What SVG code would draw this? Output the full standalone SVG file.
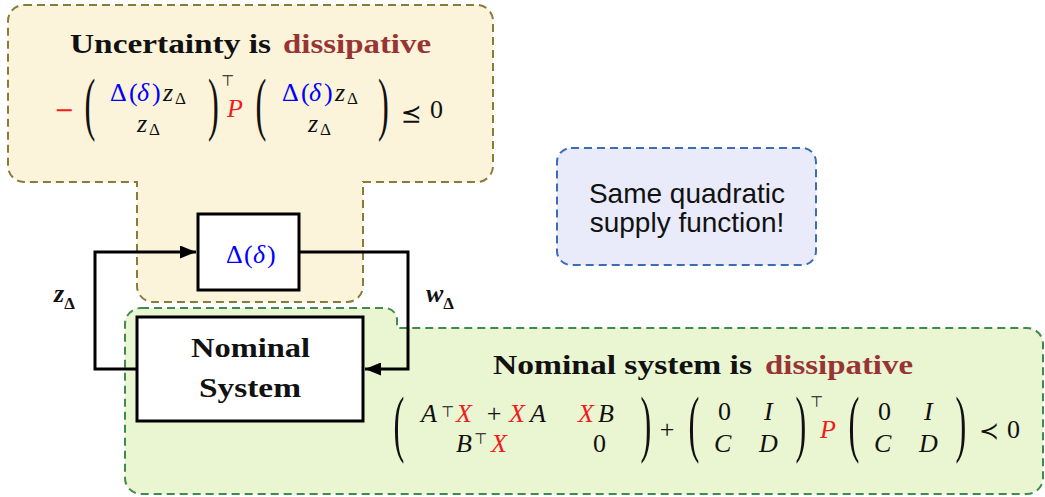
<svg xmlns="http://www.w3.org/2000/svg" width="1045" height="497" viewBox="0 0 1045 497">
<style>
.reg{fill:#fcf4da;stroke:#8a7b3b;stroke-width:2;stroke-dasharray:8 5}
.greg{fill:#eaf5d2;stroke:#3f8a4c;stroke-width:2;stroke-dasharray:8 5}
.breg{fill:#e9ebfa;stroke:#3c6cb6;stroke-width:2;stroke-dasharray:8 5}
.box{fill:#fff;stroke:#000;stroke-width:3}
.wire{fill:none;stroke:#000;stroke-width:3}
.ttl{font-family:"Liberation Serif",serif;font-weight:bold;font-size:28px;fill:#111}
.dis{fill:#983434}
.m{font-family:"Liberation Serif",serif;font-size:26px;fill:#111}
.i{font-style:italic}
.r{fill:#f01c1c}
.b{fill:#0000ff}
.sub{font-size:17px}
.sym{font-family:"DejaVu Sans",sans-serif;fill:#111}
.sans{font-family:"Liberation Sans",Arial,sans-serif;font-size:28px;fill:#111}
</style>
<defs>
<marker id="arr" markerUnits="userSpaceOnUse" markerWidth="17" markerHeight="13" refX="16" refY="6.5" orient="auto">
<path d="M0,0 L16,6.5 L0,13 z" fill="#000"/>
</marker>
</defs>

<g id="uncertainty-region">
<path class="reg" d="M24,5 H477 A16 16 0 0 1 493 21 V166 A16 16 0 0 1 477 182 H363 V286 A16 16 0 0 1 347 302 H153 A16 16 0 0 1 137 286 V182 H24 A16 16 0 0 1 8 166 V21 A16 16 0 0 1 24 5 Z"/>
<text class="ttl" y="53"><tspan x="70" textLength="201" lengthAdjust="spacingAndGlyphs">Uncertainty is</tspan><tspan class="dis" x="283" textLength="148" lengthAdjust="spacingAndGlyphs">dissipative</tspan></text>
<text class="sym" x="64" y="118" text-anchor="middle" font-size="24" style="fill:#f01c1c">−</text>
<text class="m" transform="translate(90,127) scale(1.25,2.68)" text-anchor="middle">(</text>
<text class="m" y="101"><tspan class="b" x="110">Δ</tspan><tspan class="b" x="129">(</tspan><tspan class="b i" x="137">δ</tspan><tspan class="b" x="152">)</tspan><tspan class="i" x="163">z</tspan><tspan class="sub" x="175" dy="3">Δ</tspan></text>
<text class="m" y="132"><tspan class="i" x="137">z</tspan><tspan class="sub" x="149" dy="3">Δ</tspan></text>
<text class="m" transform="translate(213.5,127) scale(1.25,2.68)" text-anchor="middle">)</text>
<text class="sym" x="221" y="86" font-size="15">⊤</text>
<text class="m r i" x="227" y="117">P</text>
<text class="m" transform="translate(261,127) scale(1.25,2.68)" text-anchor="middle">(</text>
<text class="m" y="101"><tspan class="b" x="282">Δ</tspan><tspan class="b" x="301">(</tspan><tspan class="b i" x="309">δ</tspan><tspan class="b" x="324">)</tspan><tspan class="i" x="335">z</tspan><tspan class="sub" x="347" dy="3">Δ</tspan></text>
<text class="m" y="132"><tspan class="i" x="308">z</tspan><tspan class="sub" x="320" dy="3">Δ</tspan></text>
<text class="m" transform="translate(383.5,127) scale(1.25,2.68)" text-anchor="middle">)</text>
<text class="sym" x="401" y="122" font-size="25">⪯</text>
<text class="m" x="430" y="118">0</text>
</g>

<g id="nominal-region">
<path class="greg" d="M141,308 H385 A12 12 0 0 1 397 320 V328 H1027 A16 16 0 0 1 1043 344 V478 A16 16 0 0 1 1027 494 H141 A16 16 0 0 1 125 478 V324 A16 16 0 0 1 141 308 Z"/>
<text class="ttl" y="374"><tspan x="493" textLength="259" lengthAdjust="spacingAndGlyphs">Nominal system is</tspan><tspan class="dis" x="765" textLength="148" lengthAdjust="spacingAndGlyphs">dissipative</tspan></text>
<text class="m" transform="translate(399,448) scale(1.25,2.86)" text-anchor="middle">(</text>
<text class="m" y="422"><tspan class="i" x="421">A</tspan><tspan class="i r" x="456">X</tspan><tspan x="494" text-anchor="middle">+</tspan><tspan class="i r" x="509">X</tspan><tspan class="i" x="530">A</tspan><tspan class="i r" x="578">X</tspan><tspan class="i" x="598">B</tspan></text>
<text class="sym" x="441" y="417" font-size="15">⊤</text>
<text class="m" y="452"><tspan class="i" x="456">B</tspan><tspan class="i r" x="491">X</tspan><tspan x="593">0</tspan></text>
<text class="sym" x="474" y="444" font-size="15">⊤</text>
<text class="m" transform="translate(646,448) scale(1.25,2.86)" text-anchor="middle">)</text>
<text class="m" x="667" y="438" text-anchor="middle">+</text>
<text class="m" transform="translate(694,448) scale(1.25,2.86)" text-anchor="middle">(</text>
<text class="m" y="420"><tspan x="718">0</tspan><tspan class="i" x="764">I</tspan></text>
<text class="m" y="452"><tspan class="i" x="714">C</tspan><tspan class="i" x="759">D</tspan></text>
<text class="m" transform="translate(801,448) scale(1.25,2.86)" text-anchor="middle">)</text>
<text class="sym" x="810" y="407" font-size="15">⊤</text>
<text class="m i r" x="820" y="438">P</text>
<text class="m" transform="translate(854,448) scale(1.25,2.86)" text-anchor="middle">(</text>
<text class="m" y="420"><tspan x="878">0</tspan><tspan class="i" x="924">I</tspan></text>
<text class="m" y="452"><tspan class="i" x="874">C</tspan><tspan class="i" x="919">D</tspan></text>
<text class="m" transform="translate(961,448) scale(1.25,2.86)" text-anchor="middle">)</text>
<text class="sym" x="979" y="439" font-size="24">≺</text>
<text class="m" x="1007" y="438">0</text>
</g>

<g id="supply-note">
<rect class="breg" x="557" y="148" width="259" height="117" rx="14"/>
<text class="sans" x="687" y="203" text-anchor="middle">Same quadratic</text>
<text class="sans" x="687" y="232" text-anchor="middle">supply function!</text>
</g>

<g id="connectors">
<path class="wire" d="M137,369 H95 V252 H196" marker-end="url(#arr)"/>
<path class="wire" d="M299,252 H408 V369 H365" marker-end="url(#arr)"/>
<text class="m i" font-weight="bold" font-size="24" x="54" y="302">z<tspan font-size="17" font-style="normal" dy="7">Δ</tspan></text>
<text class="m i" font-weight="bold" font-size="24" x="426" y="302">w<tspan font-size="17" font-style="normal" dy="7">Δ</tspan></text>
</g>

<g id="delta-block">
<rect class="box" x="198" y="214" width="101" height="76"/>
<text class="m b" y="263" font-size="25"><tspan x="226">Δ</tspan><tspan x="244">(</tspan><tspan class="i" x="253">δ</tspan><tspan x="267">)</tspan></text>
</g>

<g id="nominal-block">
<rect class="box" x="137" y="317" width="226" height="104"/>
<text class="ttl" font-size="30" y="357" x="191" textLength="119" lengthAdjust="spacingAndGlyphs">Nominal</text>
<text class="ttl" font-size="30" y="397" x="199" textLength="102" lengthAdjust="spacingAndGlyphs">System</text>
</g>
</svg>
